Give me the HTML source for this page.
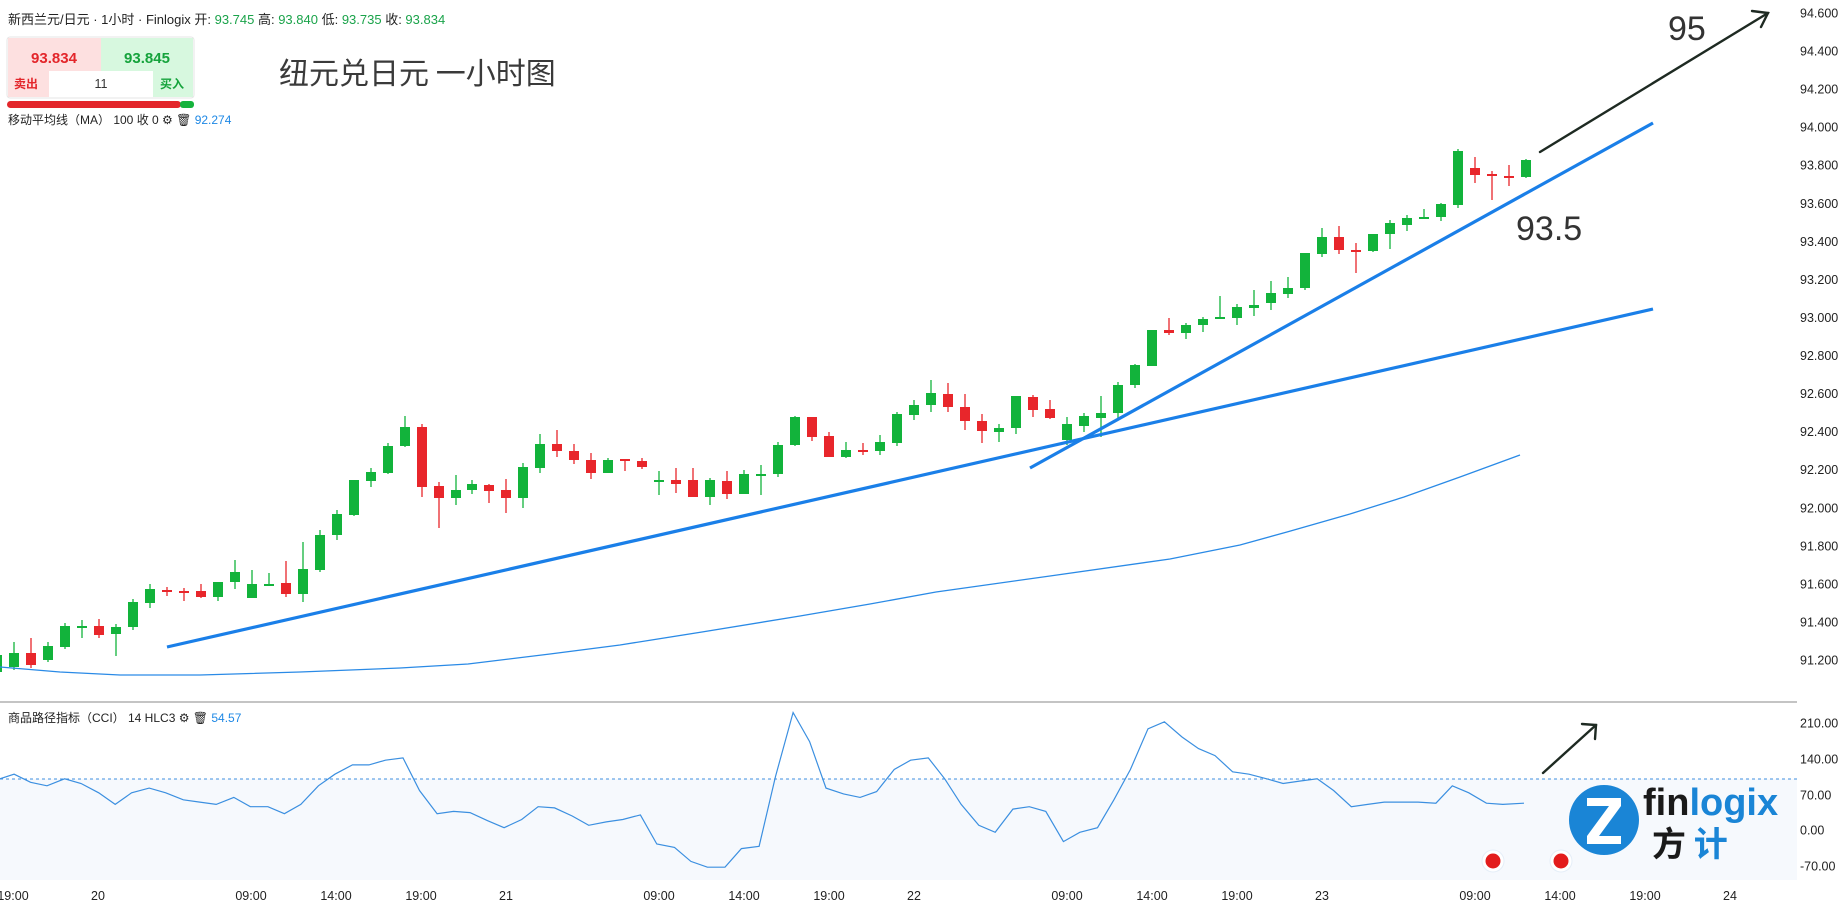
<!DOCTYPE html>
<html><head><meta charset="utf-8">
<style>
html,body{margin:0;padding:0;background:#fff;width:1843px;height:904px;overflow:hidden;font-family:"Liberation Sans","Noto Sans CJK SC",sans-serif;}
svg{display:block}
</style></head>
<body>
<svg id="s" width="1843" height="904" viewBox="0 0 1843 904" xmlns="http://www.w3.org/2000/svg" font-family="Liberation Sans, Noto Sans CJK SC, sans-serif">
<rect x="0" y="0" width="1843" height="904" fill="#fff"/>
<!-- CCI light band -->
<rect x="0" y="779" width="1797" height="101" fill="#f6f9fd"/>
<line x1="0" y1="779" x2="1797" y2="779" stroke="#3f8fe0" stroke-width="1" stroke-dasharray="3,3"/>
<!-- separator -->
<line x1="0" y1="702" x2="1797" y2="702" stroke="#c4c4c4" stroke-width="2"/>
<g id="candles"></g>
<!-- MA line -->
<polyline fill="none" stroke="#2a8ae6" stroke-width="1.3" points="0,667 60,672 120,675 200,675 300,672 400,668 468,664 550,654 620,645 702,632 800,616 870,604 936,592 1050,576 1170,559 1240,545 1287,532 1350,514 1404,497 1460,477 1520,455"/>
<!-- trend lines -->
<line x1="167" y1="647" x2="1653" y2="309" stroke="#1a7fe8" stroke-width="3.2"/>
<line x1="1030" y1="468" x2="1653" y2="123" stroke="#1a7fe8" stroke-width="3.2"/>
<!-- CCI line -->
<polyline id="cci" fill="none" stroke="#3b8fe0" stroke-width="1.2" points=""/>
<!-- arrows -->
<g stroke="#1e2a22" stroke-width="2.4" fill="none" stroke-linecap="round">
<line x1="1540" y1="152" x2="1768" y2="13"/>
<polyline points="1752,11 1768,13 1761,27"/>
<line x1="1543" y1="773" x2="1596" y2="725"/>
<polyline points="1582,724 1596,725 1595,739"/>
</g>
<text x="1668" y="40" font-size="34" fill="#333">95</text>
<text x="1516" y="240" font-size="34" fill="#333">93.5</text>
<!-- red dots -->
<circle cx="1493" cy="861" r="11" fill="#fff" stroke="#e5eef8"/>
<circle cx="1493" cy="861" r="7.5" fill="#e31c1c"/>
<circle cx="1561" cy="861" r="11" fill="#fff" stroke="#e5eef8"/>
<circle cx="1561" cy="861" r="7.5" fill="#e31c1c"/>
<!-- logo -->
<circle cx="1604" cy="820" r="35" fill="#1a85d6"/>
<path d="M1587,798 L1621,798 L1621,806 L1599,836 L1621,836 L1621,844 L1587,844 L1587,836 L1609,806 L1587,806 Z" fill="#fff"/>
<text x="1643" y="815" font-size="38" font-weight="bold" fill="#1a1a1a">fin<tspan fill="#1a85d6">logix</tspan></text>
<text x="1652" y="856" font-size="34" font-weight="bold" fill="#1a1a1a" font-family="Noto Sans CJK SC, sans-serif">方 <tspan fill="#1a85d6">计</tspan></text>
<!-- axes labels -->
<g id="ax" font-size="12.5" fill="#222"></g>
<!-- header -->
<text x="8" y="24" font-size="13" fill="#222">新西兰元/日元 · 1小时 · Finlogix  开: <tspan fill="#1aa34a">93.745</tspan>  高: <tspan fill="#1aa34a">93.840</tspan>  低: <tspan fill="#1aa34a">93.735</tspan>  收: <tspan fill="#1aa34a">93.834</tspan></text>
<rect x="7" y="37" width="187" height="61" rx="3" fill="#fff" stroke="#e6e6e6"/>
<rect x="8" y="38" width="93" height="59" fill="#fde0e0"/>
<rect x="101" y="38" width="92" height="59" fill="#d7f8df"/>
<rect x="49" y="71" width="104" height="26" fill="#fff"/>
<text x="54" y="63" font-size="15" font-weight="bold" fill="#e3262b" text-anchor="middle">93.834</text>
<text x="147" y="63" font-size="15" font-weight="bold" fill="#15a33c" text-anchor="middle">93.845</text>
<text x="14" y="88" font-size="12" font-weight="bold" fill="#e3262b">卖出</text>
<text x="101" y="88" font-size="12.5" fill="#333" text-anchor="middle">11</text>
<text x="160" y="88" font-size="12" font-weight="bold" fill="#15a33c">买入</text>
<rect x="7" y="101" width="174" height="7" rx="3.5" fill="#e3262b"/>
<rect x="180" y="101" width="14" height="7" rx="3" fill="#15b33c"/>
<text x="8" y="124" font-size="12" fill="#222">移动平均线（MA）  100 收 0  ⚙  🗑  <tspan fill="#1e88e5">92.274</tspan></text>
<text x="279" y="84" font-size="30" fill="#3a3a3a" font-family="Noto Sans CJK SC, sans-serif">纽元兑日元 一小时图</text>
<text x="8" y="722" font-size="12" fill="#222">商品路径指标（CCI）  14 HLC3  ⚙  🗑  <tspan fill="#1e88e5">54.57</tspan></text>
</svg>
<script>
var NS="http://www.w3.org/2000/svg";
var C=[
[14,653,667,642,670,"G"],[31,653,665,638,668,"R"],[48,646,660,642,662,"G"],[65,626,647,623,649,"G"],
[82,626,627,620,638,"G"],[99,626,635,619,638,"R"],[116,627,634,624,656,"G"],[133,602,627,599,630,"G"],
[150,589,603,584,608,"G"],[167,590,592,587,596,"R"],[184,591,592,588,601,"R"],[201,591,597,584,598,"R"],
[218,582,597,582,601,"G"],[235,572,582,560,589,"G"],[252,584,598,570,598,"G"],[269,584,585,573,585,"G"],
[286,583,594,561,597,"R"],[303,569,594,542,602,"G"],[320,535,570,530,572,"G"],[337,514,535,510,540,"G"],
[354,480,515,480,516,"G"],[371,472,481,468,487,"G"],[388,446,473,443,474,"G"],[405,427,446,416,447,"G"],
[422,427,487,424,497,"R"],[439,486,498,482,528,"R"],[456,490,498,475,505,"G"],[472,484,490,480,494,"G"],
[489,485,491,484,503,"R"],[506,490,498,479,513,"R"],[523,467,498,463,508,"G"],[540,444,468,434,473,"G"],
[557,444,451,430,457,"R"],[574,451,460,444,464,"R"],[591,460,473,453,479,"R"],[608,460,473,458,473,"G"],
[625,459,461,459,471,"R"],[642,461,467,458,469,"R"],[659,480,481,471,495,"G"],[676,480,484,468,493,"R"],
[693,480,497,468,497,"R"],[710,480,497,478,505,"G"],[727,481,494,471,499,"R"],[744,474,494,470,494,"G"],
[761,474,475,465,495,"G"],[778,445,474,442,477,"G"],[795,417,445,416,446,"G"],[812,417,437,417,441,"R"],
[829,436,457,432,457,"R"],[846,450,457,442,458,"G"],[863,450,452,443,455,"R"],[880,442,451,435,455,"G"],
[897,414,443,412,446,"G"],[914,405,415,400,420,"G"],[931,393,405,380,412,"G"],[948,394,407,383,412,"R"],
[965,407,421,394,430,"R"],[982,421,431,414,443,"R"],[999,428,432,424,442,"G"],[1016,396,428,396,434,"G"],
[1033,397,410,395,417,"R"],[1050,409,418,400,419,"R"],[1067,424,440,417,445,"G"],[1084,416,426,413,432,"G"],
[1101,413,418,396,437,"G"],[1118,385,413,382,420,"G"],[1135,365,385,364,388,"G"],[1152,330,366,330,366,"G"],
[1169,330,333,318,335,"R"],[1186,325,333,323,339,"G"],[1203,319,325,317,332,"G"],[1220,317,318,296,318,"G"],
[1237,307,318,304,325,"G"],[1254,305,308,290,316,"G"],[1271,293,303,281,310,"G"],[1288,288,294,277,298,"G"],
[1305,253,288,253,290,"G"],[1322,237,254,228,257,"G"],[1339,237,250,226,254,"R"],[1356,250,251,243,273,"R"],
[1373,234,251,234,252,"G"],[1390,223,234,220,249,"G"],[1407,218,225,215,231,"G"],[1424,217,218,209,219,"G"],
[1441,204,217,203,221,"G"],[1458,151,205,149,208,"G"],[1475,168,175,157,183,"R"],[1492,174,175,171,200,"R"],
[1509,176,177,165,186,"R"],[1526,160,177,159,178,"G"],[-3,655,672,650,675,"G"]];
var g=document.getElementById("candles");
C.forEach(function(c){var col=c[5]=="G"?"#12b33b":"#e8262b";
var l=document.createElementNS(NS,"line");l.setAttribute("x1",c[0]);l.setAttribute("x2",c[0]);l.setAttribute("y1",c[3]);l.setAttribute("y2",c[4]);l.setAttribute("stroke",col);l.setAttribute("stroke-width","1.3");g.appendChild(l);
var r=document.createElementNS(NS,"rect");r.setAttribute("x",c[0]-5);r.setAttribute("width",10);r.setAttribute("y",c[1]);r.setAttribute("height",Math.max(2,c[2]-c[1]));r.setAttribute("fill",col);g.appendChild(r);});
var P=[[0,662],[12,658],[26,665],[40,668],[55,662],[69,666],[84,674],[98,684],[112,674],[127,670],[141,674],[156,680],[170,682],[184,684],[199,678],[213,686],[228,686],[242,692],[256,684],[271,668],[285,658],[300,650],[314,650],[328,646],[343,644],[357,672],[372,692],[386,690],[400,691],[415,698],[429,704],[444,697],[458,686],[472,687],[487,694],[501,702],[516,699],[530,697],[545,693],[559,718],[574,721],[588,733],[602,738],[617,738],[631,722],[646,720],[660,660],[675,605],[689,630],[703,670],[718,675],[732,678],[746,673],[761,654],[775,646],[790,644],[804,662],[818,684],[833,702],[847,708],[862,688],[876,686],[890,690],[905,716],[919,708],[934,704],[948,680],[962,654],[977,619],[991,613],[1006,626],[1020,636],[1034,642],[1049,656],[1063,658],[1078,662],[1092,666],[1106,664],[1121,662],[1135,672],[1150,686],[1164,684],[1178,682],[1193,682],[1207,682],[1222,683],[1236,668],[1250,674],[1265,683],[1279,684],[1297,683]];
document.getElementById("cci").setAttribute("points",P.map(function(p){return (p[0]*1.175).toFixed(1)+","+(723+(p[1]-614)*1.163).toFixed(1);}).join(" "));
var ax=document.getElementById("ax");
function T(x,y,s,a){var t=document.createElementNS(NS,"text");t.setAttribute("x",x);t.setAttribute("y",y);if(a)t.setAttribute("text-anchor",a);t.textContent=s;ax.appendChild(t);}
for(var i=0;i<=17;i++){T(1800,13+i*38.06+4.5,(94.6-i*0.2).toFixed(3));}
[["210.00",723],["140.00",759],["70.00",795],["0.00",830],["-70.00",866]].forEach(function(a){T(1800,a[1]+4.5,a[0]);});
[["19:00",13],["20",98],["09:00",251],["14:00",336],["19:00",421],["21",506],["09:00",659],["14:00",744],["19:00",829],["22",914],["09:00",1067],["14:00",1152],["19:00",1237],["23",1322],["09:00",1475],["14:00",1560],["19:00",1645],["24",1730]].forEach(function(a){T(a[1],900,a[0],"middle");});
</script>
</body></html>
